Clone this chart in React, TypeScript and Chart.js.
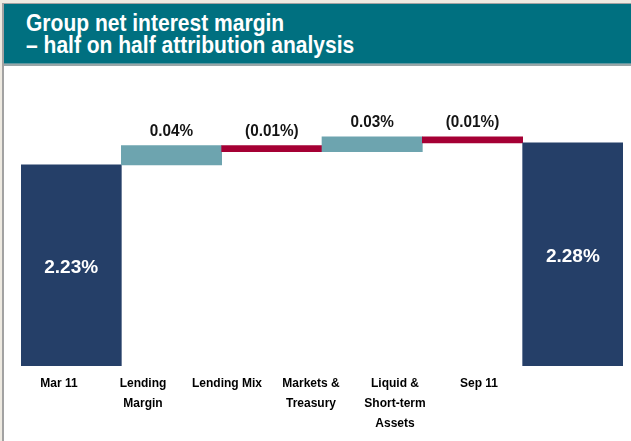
import React, { useEffect, useRef } from "react";
import { Chart, registerables } from "chart.js";

Chart.register(...registerables);

// ---- data ----
const titleLines = ["Group net interest margin", "– half on half attribution analysis"];
const categoryLabels: string[][] = [
  ["Mar 11"],
  ["Lending", "Margin"],
  ["Lending Mix"],
  ["Markets &", "Treasury"],
  ["Liquid &", "Short-term", "Assets"],
  ["Sep 11"],
];
const openingMargin = 2.23;
const closingMargin = 2.28;
const changes = [0.044, -0.014, 0.034, -0.014];
const valueLabels = ["2.23%", "0.04%", "(0.01%)", "0.03%", "(0.01%)", "2.28%"];
const axisMin = 1.773;
const axisMax = 2.423;

// ---- styles ----
const NAVY = "#253F68";
const TEAL = "#6DA4AF";
const RED = "#A50034";
const HEADER = "#007080";
const FONT = '"Liberation Sans", Arial, Helvetica, sans-serif';

const floating: [number, number][] = [];
floating.push([axisMin, openingMargin]);
let running = openingMargin;
changes.forEach((c) => {
  const next = running + c;
  floating.push([Math.min(running, next), Math.max(running, next)]);
  running = next;
});
floating.push([axisMin, closingMargin]);
const barColors = [NAVY, ...changes.map((c) => (c >= 0 ? TEAL : RED)), NAVY];

const valueLabelPlugin = {
  id: "valueLabels",
  afterDatasetsDraw(chart: any) {
    const ctx = chart.ctx;
    const meta = chart.getDatasetMeta(0);
    const last = meta.data.length - 1;
    meta.data.forEach((bar: any, i: number) => {
      const { x, y, base } = bar.getProps(["x", "y", "base"], true);
      const top = Math.min(y, base);
      const bottom = Math.max(y, base);
      ctx.save();
      ctx.textAlign = "center";
      if (i === 0 || i === last) {
        ctx.font = `bold 19px ${FONT}`;
        ctx.fillStyle = "#ffffff";
        ctx.textBaseline = "middle";
        ctx.fillText(valueLabels[i], x, (top + bottom) / 2 + 2.5);
      } else {
        ctx.font = `bold 17px ${FONT}`;
        ctx.fillStyle = "#141414";
        ctx.textBaseline = "alphabetic";
        ctx.translate(x, top - 9.5);
        ctx.scale(0.9, 1);
        ctx.fillText(valueLabels[i], 0, 0);
      }
      ctx.restore();
    });
  },
};

export default function App() {
  const canvasRef = useRef<HTMLCanvasElement | null>(null);

  useEffect(() => {
    if (!canvasRef.current) return;
    const chart = new Chart(canvasRef.current, {
      type: "bar",
      data: {
        labels: categoryLabels.map((l) => l.join(" ")),
        datasets: [
          {
            data: floating as any,
            backgroundColor: barColors,
            borderWidth: 0,
            borderSkipped: false,
            barPercentage: 1,
            categoryPercentage: 1,
            xAxisID: "x",
            yAxisID: "y",
          },
        ],
      },
      options: {
        animation: false,
        responsive: false,
        maintainAspectRatio: false,
        layout: { padding: { left: 17, right: 8, top: 14, bottom: 0 } },
        plugins: {
          legend: { display: false },
          tooltip: { enabled: false },
          title: { display: false },
        },
        scales: {
          x: { type: "category", display: false },
          xLabels: {
            type: "linear",
            position: "bottom",
            offset: false,
            min: -0.452,
            max: 6.714,
            grid: { display: false, drawTicks: false, offset: false },
            border: { display: false },
            afterBuildTicks: (scale: any) => {
              scale.ticks = categoryLabels.map((_, i) => ({ value: i }));
            },
            ticks: {
              autoSkip: false,
              maxRotation: 0,
              padding: 7.5,
              color: "#000000",
              font: { family: FONT, size: 12, weight: "bold", lineHeight: "20px" },
              callback: (v: any) => categoryLabels[v] ?? "",
            },
          },
          y: { type: "linear", display: false, min: axisMin, max: axisMax },
        },
      } as any,
      plugins: [valueLabelPlugin],
    });
    return () => chart.destroy();
  }, []);

  return (
    <div
      style={{
        position: "fixed",
        left: 0,
        top: 0,
        width: 631,
        height: 441,
        background: "#ffffff",
        overflow: "hidden",
      }}
    >
      <div style={{ position: "absolute", left: 0, top: 0, width: 631, height: 3, background: "#EEEAE1" }} />
      <div style={{ position: "absolute", left: 0, top: 0, width: 2, height: 441, background: "#EEEAE1" }} />
      <div style={{ position: "absolute", left: 2, top: 3, width: 629, height: 1, background: "#A2A2A2" }} />
      <div style={{ position: "absolute", left: 2, top: 3, width: 2, height: 438, background: "#A2A2A2" }} />
      <div
        style={{
          position: "absolute",
          left: 4,
          top: 4,
          width: 627,
          height: 59,
          background: HEADER,
        }}
      >
        <div
          style={{
            position: "absolute",
            left: 22,
            top: 7.5,
            whiteSpace: "nowrap",
            color: "#ffffff",
            fontFamily: FONT,
            fontWeight: "bold",
            fontSize: 24,
            lineHeight: "22px",
            transform: "scaleX(0.876)",
            transformOrigin: "left top",
          }}
        >
          {titleLines.map((t, i) => (
            <div key={i}>{t}</div>
          ))}
        </div>
      </div>
      <div style={{ position: "absolute", left: 4, top: 63, width: 627, height: 1, background: "#5E97A0" }} />
      <div style={{ position: "absolute", left: 4, top: 64, width: 627, height: 2, background: "#98A6A8" }} />
      <canvas
        ref={canvasRef}
        width={627}
        height={375}
        style={{ position: "absolute", left: 4, top: 66, width: 627, height: 375 }}
      />
    </div>
  );
}
